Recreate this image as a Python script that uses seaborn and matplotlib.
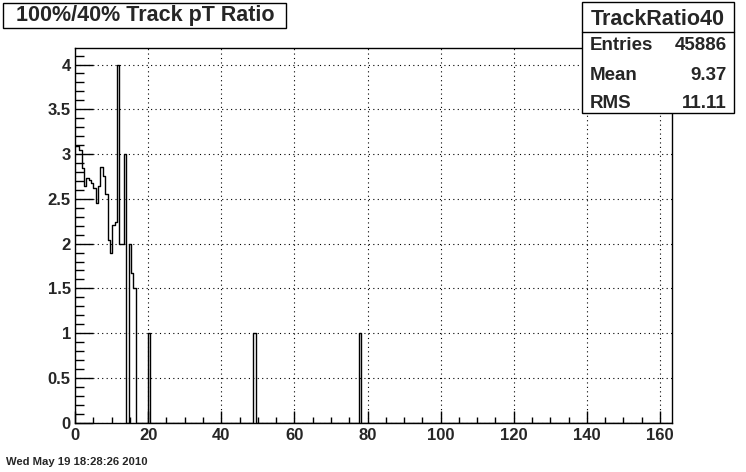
import numpy as np
import pandas as pd
import matplotlib
matplotlib.use("Agg")
import matplotlib.pyplot as plt
from matplotlib.patches import Rectangle
from matplotlib.ticker import MultipleLocator
import seaborn as sns

# ---- data ----
bin_start = -0.103
bin_width = 0.643
n_bins = 255
bin_index = [0, 1, 2, 3, 4, 5, 6, 7, 8, 9, 10, 11, 12, 13, 14, 15, 16, 17,
             18, 19, 20, 21, 23, 24, 25, 31, 76, 121]
bin_value = [3.09, 3.09, 3.05, 2.84, 2.64, 2.73, 2.71, 2.68, 2.62, 2.45,
             2.64, 2.85, 2.75, 2.55, 2.04, 1.89, 2.21, 2.24,
             4.0, 2.0, 2.0, 3.0, 2.0, 1.67, 1.5, 1.0, 1.0, 1.0]
x_ticks = [0, 20, 40, 60, 80, 100, 120, 140, 160]
y_ticks = [0, 0.5, 1, 1.5, 2, 2.5, 3, 3.5, 4]
title = "100%/40% Track pT Ratio"
stats_name = "TrackRatio40"
stats_labels = ["Entries", "Mean", "RMS"]
stats_values = ["45886", "9.37", "11.11"]
date_text = "Wed May 19 18:28:26 2010"

edges = [float(bin_start + bin_width * k) for k in range(n_bins + 1)]
df = pd.DataFrame({
    "pt": [bin_start + (i + 0.5) * bin_width for i in bin_index],
    "w": bin_value,
})

sns.set_style("white")
plt.rcParams['font.family'] = ['Liberation Sans', 'DejaVu Sans']
plt.rcParams['font.weight'] = 'bold'

W, H = 746, 472
fig = plt.figure(figsize=(W / 100, H / 100), dpi=100)
fig.patch.set_facecolor("white")

def fx(x):
    return x / W

def fy(y):
    return 1 - y / H

L, R, T, B = 75, 671.7, 47.5, 422.7
ax = fig.add_axes([fx(L), fy(B), (R - L) / W, (B - T) / H])

sns.histplot(data=df, x="pt", weights="w", bins=edges, element="step",
             fill=False, color="black", linewidth=1.0, ax=ax, zorder=3)

ax.set_xlim(0, 163.2)
ax.set_ylim(0, 4.19)
ax.set_xlabel("")
ax.set_ylabel("")
ax.set_xticks(x_ticks)
ax.set_yticks(y_ticks)
ax.set_xticklabels([str(v) for v in x_ticks])
ax.set_yticklabels([("%g" % v) for v in y_ticks])
ax.xaxis.set_minor_locator(MultipleLocator(5))
ax.yaxis.set_minor_locator(MultipleLocator(0.1))
ax.tick_params(axis="y", which="major", direction="in", length=13, width=1,
               color="black", labelsize=12, pad=3, left=True)
ax.tick_params(axis="y", which="minor", direction="in", length=6.5, width=1,
               color="black", left=True)
ax.tick_params(axis="x", which="major", direction="in", length=8.4, width=1,
               color="black", labelsize=12, pad=4, bottom=True)
ax.tick_params(axis="x", which="minor", direction="in", length=4.2, width=1,
               color="black", bottom=True)
for lab in ax.get_xticklabels() + ax.get_yticklabels():
    lab.set_fontweight("bold")
ax.grid(True, which="major", linestyle=(0, (1, 3)), color="black",
        linewidth=0.8)
ax.set_axisbelow(True)
for s in ax.spines.values():
    s.set_color("black")
    s.set_linewidth(1.0)

# title box
fig.add_artist(Rectangle((fx(3), fy(28.3)), (286 - 3) / W, (28.3 - 3) / H,
                         transform=fig.transFigure, facecolor="white",
                         edgecolor="black", linewidth=1.0, zorder=5))
fig.text(fx(145), fy(21), title, ha="center", va="baseline", fontsize=15.5,
         fontweight="bold", zorder=6)

# stats box
sx0, sx1, sy0, sy1, ssep = 582, 734, 2, 113, 31.7
fig.add_artist(Rectangle((fx(sx0), fy(sy1)), (sx1 - sx0) / W, (sy1 - sy0) / H,
                         transform=fig.transFigure, facecolor="white",
                         edgecolor="black", linewidth=1.0, zorder=5))
fig.add_artist(plt.Line2D([fx(sx0), fx(sx1)], [fy(ssep), fy(ssep)],
                          transform=fig.transFigure, color="black",
                          linewidth=1.0, zorder=6))
fig.text(fx((sx0 + sx1) / 2), fy(25), stats_name, ha="center", va="baseline",
         fontsize=15.5, fontweight="bold", zorder=6)
row_y = [50, 79.5, 107.5]
for lab, val, yy in zip(stats_labels, stats_values, row_y):
    fig.text(fx(590), fy(yy), lab, ha="left", va="baseline", fontsize=13.5,
             fontweight="bold", zorder=6)
    fig.text(fx(727), fy(yy), val, ha="right", va="baseline", fontsize=13.5,
             fontweight="bold", zorder=6)

fig.text(fx(6), fy(462), date_text, ha="left", va="center", fontsize=8.1,
         fontweight="bold")

fig.savefig("out.png", dpi=100)
